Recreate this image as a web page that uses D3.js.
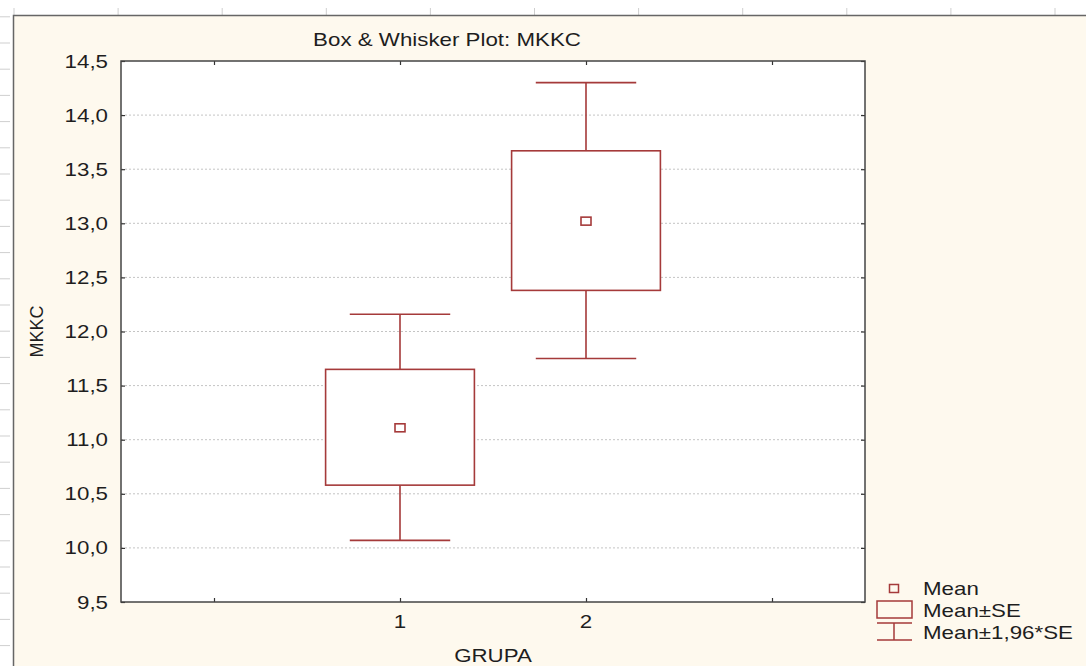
<!DOCTYPE html>
<html>
<head>
<meta charset="utf-8">
<script src="https://cdn.jsdelivr.net/npm/d3@7"></script>
<style>
  html, body { margin: 0; padding: 0; background: #fff; }
  svg { display: block; font-family: "Liberation Sans", Arial, sans-serif; }
</style>
</head>
<body>
<div id="chart"></div>
<script>
// values
var groups = [1, 2];
var means = [11.11, 13.02];
var seLow = [10.58, 12.38];
var seHigh = [11.65, 13.67];
var ciLow = [10.07, 11.75];
var ciHigh = [12.16, 14.30];
var yTicks = [9.5, 10.0, 10.5, 11.0, 11.5, 12.0, 12.5, 13.0, 13.5, 14.0, 14.5];
var xTicks = [0, 1, 2, 3];
var legendLabels = ["Mean", "Mean\u00b1SE", "Mean\u00b11,96*SE"];

var W = 1086, H = 666;
var red = "#a53a3a";
var ink = "#1e1e1e";
var stretch = 1.24; // the original text is drawn wider than it is tall
var plot = { left: 121, right: 865, top: 61, bottom: 602 };

var svg = d3.select("#chart").append("svg")
	.attr("width", W)
	.attr("height", H);

// horizontal text, stretched sideways like the source picture
function label(parent, x, y, txt, anchor) {
	return parent.append("text")
		.attr("transform", "translate(" + x + "," + y + ") scale(" + stretch + ",1)")
		.attr("text-anchor", anchor || "start")
		.attr("font-size", 18)
		.attr("fill", ink)
		.text(txt);
}

// window frame (ruler like ticks + beige panel)
svg.append("rect")
	.attr("x", 13).attr("y", 15)
	.attr("width", W - 13).attr("height", H - 15)
	.attr("fill", "#fef9ee");

var ruler = svg.append("g").attr("stroke", "#cfcfcf").attr("stroke-width", 1);
d3.range(14, W, 104.1).forEach(function(x) {
	ruler.append("line").attr("x1", x).attr("x2", x).attr("y1", 8).attr("y2", 15);
});
d3.range(16.8, H, 26.2).forEach(function(y) {
	ruler.append("line").attr("x1", 0).attr("x2", 10).attr("y1", y).attr("y2", y);
});
svg.append("path")
	.attr("d", "M13.5," + H + "V15.5H" + W)
	.attr("fill", "none")
	.attr("stroke", "#666")
	.attr("stroke-width", 1.5);

var x = d3.scaleLinear().domain([-0.5, 3.5]).range([plot.left, plot.right]);
var y = d3.scaleLinear().domain([9.5, 14.5]).range([plot.bottom, plot.top]);
var fmt = d3.formatLocale({ decimal: ",", thousands: " ", grouping: [3], currency: ["", ""] }).format(".1f");

svg.append("rect")
	.attr("x", plot.left).attr("y", plot.top)
	.attr("width", plot.right - plot.left).attr("height", plot.bottom - plot.top)
	.attr("fill", "#fff");

// gridlines
svg.append("g").selectAll("line")
	.data(yTicks.filter(function(d) { return d > 9.5 && d < 14.5; }))
	.enter().append("line")
	.attr("x1", plot.left).attr("x2", plot.right)
	.attr("y1", function(d) { return y(d); })
	.attr("y2", function(d) { return y(d); })
	.attr("stroke", "#c4c4c4")
	.attr("stroke-dasharray", "2,2");

// axes with inward ticks on all four sides
svg.append("g")
	.attr("transform", "translate(" + plot.left + ",0)")
	.call(d3.axisRight(y).tickValues(yTicks).tickSize(4).tickFormat(""));
svg.append("g")
	.attr("transform", "translate(" + plot.right + ",0)")
	.call(d3.axisLeft(y).tickValues(yTicks).tickSize(4).tickFormat(""));
svg.append("g")
	.attr("transform", "translate(0," + plot.bottom + ")")
	.call(d3.axisTop(x).tickValues(xTicks).tickSize(4).tickFormat(""));
svg.append("g")
	.attr("transform", "translate(0," + plot.top + ")")
	.call(d3.axisBottom(x).tickValues(xTicks).tickSize(4).tickFormat(""));
svg.selectAll(".domain").remove();
svg.selectAll(".tick line").attr("stroke", "#333").attr("stroke-width", 1.2);

svg.append("rect")
	.attr("x", plot.left).attr("y", plot.top)
	.attr("width", plot.right - plot.left).attr("height", plot.bottom - plot.top)
	.attr("fill", "none")
	.attr("stroke", "#444")
	.attr("stroke-width", 1.5);

// tick labels
var yLab = svg.append("g");
yTicks.forEach(function(d) {
	label(yLab, 108, y(d) + 6.5, fmt(d), "end");
});
var xLab = svg.append("g");
groups.forEach(function(d) {
	label(xLab, x(d), 628, d, "middle");
});

// titles
label(svg, 447, 46, "Box & Whisker Plot: MKKC", "middle");
label(svg, (plot.left + plot.right) / 2, 662, "GRUPA", "middle");
svg.append("text")
	.attr("transform", "translate(43," + (plot.top + plot.bottom) / 2 + ") rotate(-90)")
	.attr("text-anchor", "middle")
	.attr("font-size", 18)
	.attr("fill", ink)
	.text("MKKC");

// boxes and whiskers
var boxHalf = 0.4, capHalf = 0.27;
var marks = svg.append("g")
	.attr("fill", "none")
	.attr("stroke", red)
	.attr("stroke-width", 1.6);

groups.forEach(function(g, i) {
	var cx = x(g);
	var cap = x(g + capHalf) - cx;
	marks.append("path")
		.attr("d", "M" + (cx - cap) + "," + y(ciHigh[i]) + "H" + (cx + cap) +
			"M" + cx + "," + y(ciHigh[i]) + "V" + y(seHigh[i]) +
			"M" + cx + "," + y(seLow[i]) + "V" + y(ciLow[i]) +
			"M" + (cx - cap) + "," + y(ciLow[i]) + "H" + (cx + cap));
	marks.append("rect")
		.attr("x", x(g - boxHalf))
		.attr("y", y(seHigh[i]))
		.attr("width", x(g + boxHalf) - x(g - boxHalf))
		.attr("height", y(seLow[i]) - y(seHigh[i]))
		.attr("fill", "#fff");
	marks.append("rect")
		.attr("x", cx - 5)
		.attr("y", y(means[i]) - 4)
		.attr("width", 10)
		.attr("height", 8);
});

// legend
var legend = svg.append("g");
var lx = 894;
var textY = [595, 617, 639];
var lg = legend.append("g").attr("fill", "none").attr("stroke", red).attr("stroke-width", 1.5);
lg.append("rect").attr("x", lx - 4.5).attr("y", 584.5).attr("width", 9).attr("height", 8);
lg.append("rect").attr("x", lx - 17).attr("y", 601).attr("width", 35).attr("height", 17);
lg.append("path").attr("d", "M" + (lx - 17) + ",623H" + (lx + 18) +
	"M" + lx + ",623V640" +
	"M" + (lx - 17) + ",640H" + (lx + 18));
legendLabels.forEach(function(t, i) {
	label(legend, 923, textY[i], t, "start");
});
</script>
</body>
</html>
